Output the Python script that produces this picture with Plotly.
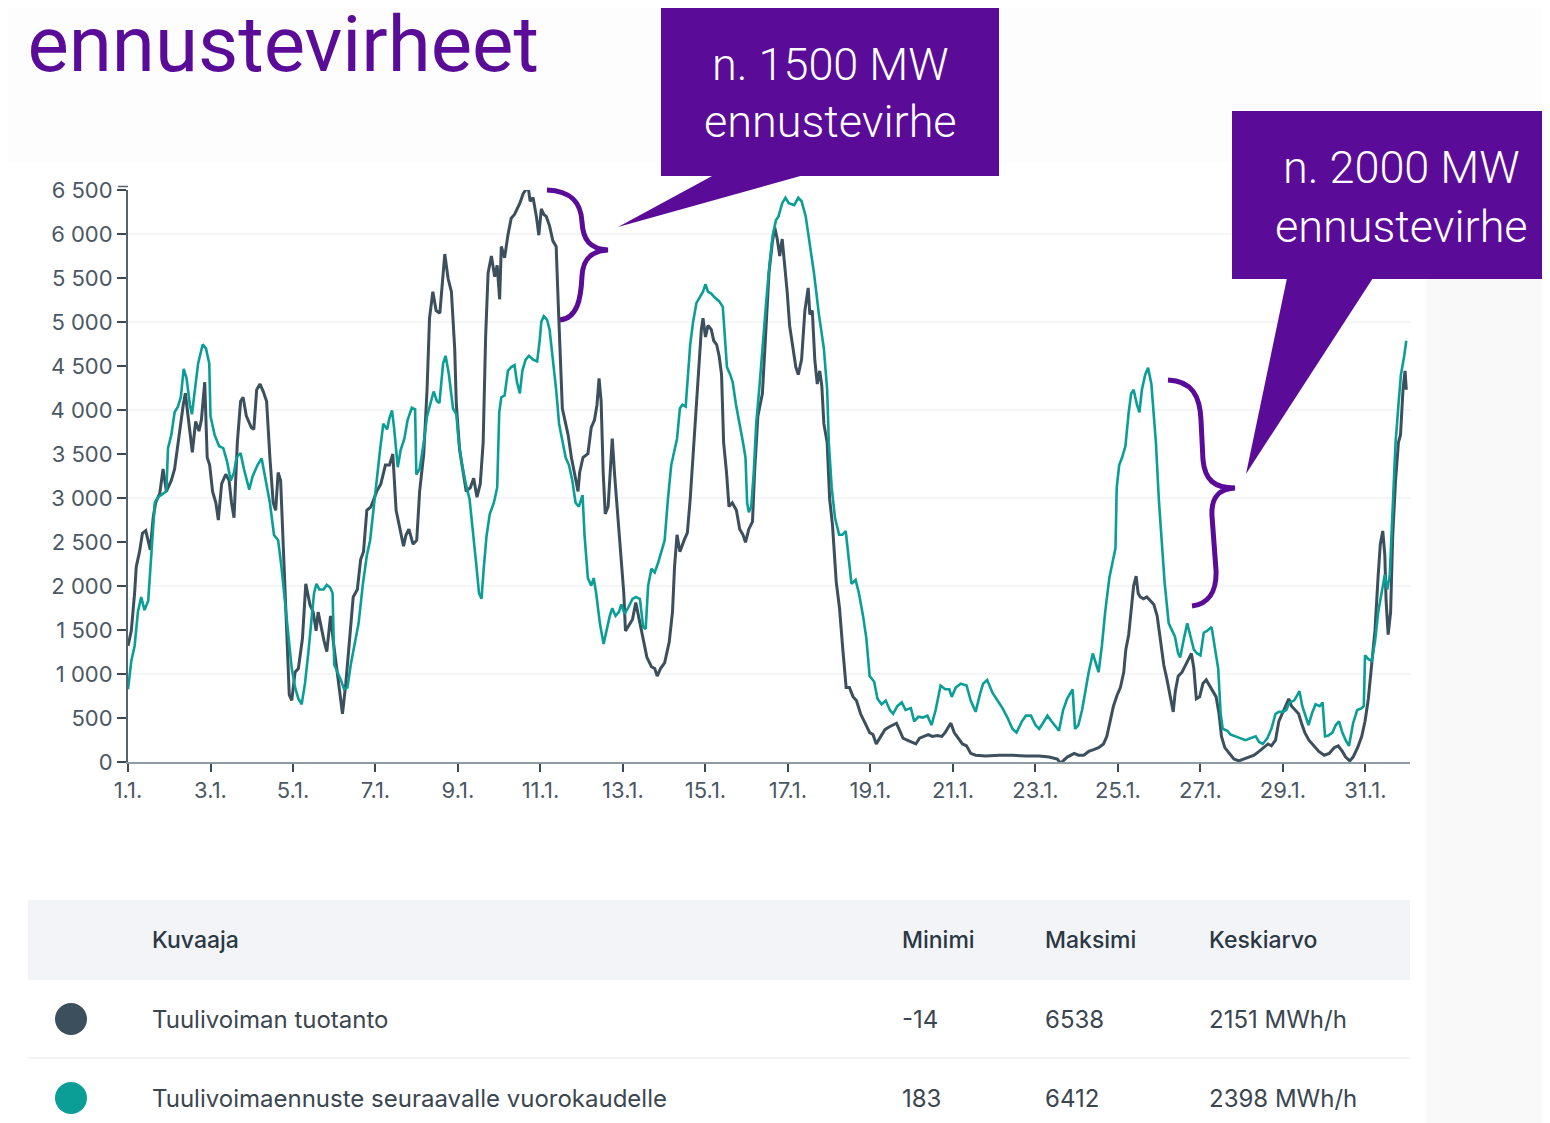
import pandas as pd
import plotly.graph_objects as go

# ---------------- data (day offset from 1 Jan 00:00, MW) ----------------
prod_days = [0, 0.08, 0.16, 0.2, 0.28, 0.35, 0.43, 0.54, 0.61, 0.67, 0.77, 0.85, 0.93, 1.05, 1.13, 1.21, 1.34, 1.39, 1.46,
             1.56, 1.64, 1.72, 1.78, 1.86, 1.92, 1.98, 2.05, 2.13, 2.19, 2.27, 2.37, 2.45, 2.51, 2.57, 2.65, 2.73, 2.79,
             2.87, 2.99, 3.05, 3.12, 3.2, 3.28, 3.36, 3.44, 3.52, 3.58, 3.64, 3.7, 3.77, 3.85, 3.91, 3.97, 4.05, 4.13,
             4.23, 4.31, 4.41, 4.49, 4.56, 4.61, 4.7, 4.75, 4.82, 4.91, 4.98, 5.06, 5.14, 5.2, 5.28, 5.38, 5.46, 5.56,
             5.64, 5.71, 5.79, 5.89, 5.97, 6.03, 6.13, 6.24, 6.34, 6.42, 6.5, 6.6, 6.68, 6.74, 6.81, 6.91, 7.0, 7.07,
             7.17, 7.25, 7.31, 7.39, 7.47, 7.56, 7.61, 7.68, 7.76, 7.84, 7.92, 7.96, 8.04, 8.12, 8.2, 8.3, 8.38, 8.46,
             8.54, 8.61, 8.67, 8.73, 8.81, 8.89, 8.95, 9.01, 9.05, 9.13, 9.21, 9.29, 9.37, 9.5, 9.58, 9.64, 9.7, 9.75,
             9.82, 9.9, 9.96, 10.02, 10.08, 10.14, 10.22, 10.3, 10.38, 10.43, 10.48, 10.53, 10.59, 10.67, 10.75, 10.83,
             10.91, 10.95, 11.03, 11.15, 11.23, 11.31, 11.37, 11.42, 11.47, 11.52, 11.57, 11.64, 11.7, 11.74, 11.8,
             11.88, 11.96, 12.02, 12.06, 12.15, 12.23, 12.31, 12.39, 12.49, 12.58, 12.69, 12.77, 12.83, 12.91, 13.01,
             13.12, 13.2, 13.25, 13.31, 13.38, 13.48, 13.56, 13.63, 13.72, 13.78, 13.84, 13.9, 13.94, 14.0, 14.06,
             14.14, 14.2, 14.27, 14.33, 14.39, 14.44, 14.51, 14.57, 14.65, 14.75, 14.83, 14.91, 14.97, 15.05, 15.14,
             15.19, 15.27, 15.38, 15.46, 15.54, 15.62, 15.68, 15.74, 15.8, 15.86, 15.93, 15.98, 16.04, 16.11, 16.19,
             16.25, 16.33, 16.41, 16.49, 16.53, 16.59, 16.65, 16.71, 16.77, 16.82, 16.87, 16.95, 17.01, 17.08, 17.17,
             17.25, 17.33, 17.41, 17.49, 17.58, 17.66, 17.76, 17.87, 17.98, 18.06, 18.14, 18.25, 18.35, 18.45, 18.55,
             18.63, 18.69, 18.79, 18.89, 18.99, 19.1, 19.19, 19.3, 19.4, 19.5, 19.62, 19.73, 19.81, 19.89, 19.95,
             20.03, 20.14, 20.23, 20.33, 20.43, 20.55, 20.79, 21.12, 21.44, 21.76, 22.09, 22.33, 22.53, 22.61, 22.77,
             22.94, 23.04, 23.17, 23.29, 23.41, 23.53, 23.65, 23.73, 23.81, 23.89, 23.98, 24.06, 24.14, 24.19, 24.26,
             24.32, 24.38, 24.44, 24.49, 24.54, 24.62, 24.7, 24.79, 24.87, 24.95, 25.03, 25.11, 25.19, 25.27, 25.34,
             25.39, 25.46, 25.55, 25.64, 25.72, 25.78, 25.84, 25.9, 25.98, 26.06, 26.14, 26.22, 26.3, 26.38, 26.45,
             26.51, 26.59, 26.69, 26.81, 26.93, 27.05, 27.17, 27.3, 27.42, 27.54, 27.64, 27.72, 27.82, 27.9, 27.98,
             28.06, 28.14, 28.21, 28.29, 28.38, 28.45, 28.53, 28.63, 28.75, 28.87, 29.0, 29.12, 29.24, 29.34, 29.44,
             29.52, 29.62, 29.7, 29.81, 29.91, 29.99, 30.07, 30.15, 30.23, 30.31, 30.36, 30.42, 30.47, 30.5, 30.55,
             30.61, 30.66, 30.73, 30.8, 30.85, 30.91, 30.96, 30.99]
prod_mw = [1320, 1490, 1918, 2218, 2390, 2600, 2630, 2410, 2775, 2946, 3053, 3330, 3075, 3200, 3330, 3630, 4060, 4190, 3890,
           3520, 3870, 3760, 3890, 4316, 3460, 3374, 3075, 2946, 2750, 3160, 3270, 3200, 2946, 2775, 3630, 4100, 4145,
           3930, 3800, 3780, 4230, 4295, 4210, 4100, 3460, 2946, 2860, 3290, 3200, 2347, 1490, 762, 700, 1020, 1062,
           1405, 2025, 1790, 1704, 1490, 1704, 1490, 1383, 1255, 1660, 1360, 1062, 720, 548, 890, 1490, 1875, 1960,
           2300, 2390, 2860, 2900, 2990, 3075, 3160, 3374, 3374, 3500, 2860, 2646, 2453, 2580, 2646, 2475, 2520, 3075,
           3500, 4230, 5044, 5344, 5130, 5100, 5387, 5772, 5494, 5344, 4700, 4060, 3545, 3290, 3075, 3117, 3224, 3010,
           3160, 3630, 4830, 5558, 5750, 5515, 5644, 5258, 5858, 5730, 5986, 6180, 6222, 6350, 6457, 6500, 6538, 6372,
           6414, 6200, 5986, 6286, 6222, 6200, 6093, 5922, 5858, 5215, 4487, 4017, 3888, 3717, 3460, 3245,
           3075, 3290, 3460, 3503, 3800, 3888, 4060, 4360, 4100, 3290, 2818, 2903, 3374, 3674, 3245,
           2775, 2347, 1918, 1490, 1554, 1619, 1811, 1619, 1405, 1190, 1083, 1062, 976, 1062, 1126,
           1362, 1704, 2218, 2582, 2390, 2518, 2603, 2990, 3630, 4060, 4487, 4916, 5044, 4830, 4959,
           4916, 4787, 4744, 4616, 4402, 3630, 3290, 2903, 2946, 2860, 2646, 2582, 2496, 2646, 2732,
           3290, 3930, 4188, 4916, 5558, 5900, 6072, 5943, 5750, 5943, 5601, 5344, 4959, 4745, 4488,
           4402, 4573, 5130, 5387, 5087, 5130, 4573, 4295, 4445, 4273, 3845, 3630, 2990, 2690, 2047,
           1747, 1276, 848, 848, 740, 698, 548, 441, 334, 312, 205, 291, 368, 398, 420,
           441, 377, 270, 248, 227, 205, 270, 291, 312, 291, 300, 291, 334, 398, 441,
           334, 270, 205, 184, 98, 77, 68, 77, 77, 68, 68, 56, 34, -14, 56,
           98, 77, 77, 120, 141, 163, 205, 291, 462, 634, 762, 848, 1019, 1276, 1447,
           1704, 2004, 2111, 1918, 1875, 1854, 1875, 1833, 1790, 1661, 1362, 1105, 933, 719, 570,
           805, 976, 1019, 1105, 1190, 1233, 1062, 719, 740, 891, 933, 869, 805, 740, 548,
           291, 163, 98, 34, 13, 34, 56, 77, 120, 163, 205, 184, 248, 462, 548,
           634, 719, 634, 591, 548, 441, 334, 248, 184, 120, 77, 98, 163, 184, 120,
           56, 13, 56, 163, 291, 462, 719, 1105, 1490, 2132, 2475, 2625, 2347, 1833, 1447,
           1704, 2560, 3203, 3631, 3717, 4230, 4445, 4230]

fc_days = [0, 0.08, 0.16, 0.24, 0.32, 0.4, 0.49, 0.57, 0.65, 0.73, 0.85, 0.93, 0.97, 1.05, 1.13, 1.21, 1.28, 1.35, 1.42,
           1.5, 1.55, 1.62, 1.7, 1.81, 1.89, 1.97, 2.0, 2.1, 2.21, 2.31, 2.4, 2.49, 2.57, 2.63, 2.73, 2.81, 2.94, 3.02,
           3.14, 3.24, 3.32, 3.44, 3.54, 3.64, 3.72, 3.81, 3.89, 3.97, 4.05, 4.13, 4.21, 4.29, 4.37, 4.45, 4.51, 4.57,
           4.64, 4.74, 4.82, 4.9, 4.96, 5.0, 5.08, 5.16, 5.24, 5.32, 5.4, 5.51, 5.59, 5.69, 5.79, 5.87, 5.95, 6.03,
           6.11, 6.19, 6.28, 6.34, 6.4, 6.45, 6.54, 6.61, 6.7, 6.78, 6.88, 6.96, 6.99, 7.07, 7.17, 7.25, 7.35, 7.41,
           7.49, 7.55, 7.64, 7.7, 7.78, 7.88, 7.96, 8.02, 8.1, 8.19, 8.28, 8.36, 8.44, 8.51, 8.57, 8.62, 8.69, 8.77,
           8.87, 8.95, 9.0, 9.05, 9.13, 9.21, 9.29, 9.37, 9.43, 9.5, 9.56, 9.64, 9.72, 9.82, 9.92, 9.98, 10.02, 10.08,
           10.16, 10.22, 10.3, 10.38, 10.45, 10.53, 10.61, 10.69, 10.77, 10.85, 10.93, 11.02, 11.07, 11.15, 11.23,
           11.29, 11.35, 11.44, 11.53, 11.6, 11.68, 11.74, 11.82, 11.9, 11.96, 12.04, 12.12, 12.23, 12.31, 12.41,
           12.49, 12.55, 12.61, 12.69, 12.77, 12.85, 12.93, 13.01, 13.09, 13.17, 13.25, 13.31, 13.38, 13.44, 13.52,
           13.58, 13.63, 13.7, 13.78, 13.86, 13.94, 14.0, 14.06, 14.14, 14.22, 14.33, 14.42, 14.47, 14.52, 14.6,
           14.66, 14.74, 14.83, 14.91, 14.97, 15.01, 15.05, 15.11, 15.17, 15.23, 15.31, 15.39, 15.47, 15.55, 15.63,
           15.71, 15.77, 15.86, 15.94, 16.02, 16.15, 16.25, 16.33, 16.43, 16.51, 16.63, 16.75, 16.87, 16.95, 16.99,
           17.06, 17.14, 17.24, 17.32, 17.4, 17.46, 17.54, 17.64, 17.72, 17.82, 17.9, 17.98, 18.09, 18.17, 18.27,
           18.37, 18.47, 18.55, 18.65, 18.76, 18.85, 18.98, 19.06, 19.16, 19.27, 19.38, 19.48, 19.58, 19.7, 19.81,
           19.91, 19.97, 20.07, 20.19, 20.33, 20.43, 20.55, 20.65, 20.73, 20.83, 20.96, 21.08, 21.2, 21.32, 21.44,
           21.54, 21.67, 21.77, 21.89, 22.0, 22.09, 22.18, 22.29, 22.39, 22.49, 22.57, 22.67, 22.77, 22.9, 22.96,
           23.04, 23.13, 23.21, 23.29, 23.39, 23.47, 23.53, 23.61, 23.69, 23.79, 23.85, 23.94, 23.97, 24.03, 24.1,
           24.18, 24.26, 24.32, 24.38, 24.46, 24.52, 24.58, 24.66, 24.73, 24.81, 24.87, 24.92, 24.99, 25.05, 25.13,
           25.23, 25.31, 25.38, 25.46, 25.51, 25.6, 25.68, 25.76, 25.84, 25.92, 26.0, 26.08, 26.16, 26.27, 26.35,
           26.43, 26.49, 26.54, 26.65, 26.73, 26.85, 26.97, 27.09, 27.21, 27.34, 27.42, 27.51, 27.62, 27.72, 27.82,
           27.9, 28.0, 28.08, 28.16, 28.27, 28.35, 28.4, 28.47, 28.55, 28.62, 28.7, 28.79, 28.89, 28.96, 29.02,
           29.1, 29.2, 29.28, 29.36, 29.44, 29.52, 29.6, 29.7, 29.8, 29.91, 29.96, 29.99, 30.07, 30.15, 30.23,
           30.31, 30.39, 30.47, 30.53, 30.59, 30.65, 30.73, 30.8, 30.86, 30.94, 30.99]
fc_mw = [826, 1148, 1319, 1704, 1875, 1726, 1833, 2390, 2946, 3010, 3053, 3075, 3567, 3717, 3974, 4038, 4145, 4466, 4360,
         4060, 3952, 4252, 4530, 4745, 4700, 4530, 3930, 3717, 3588, 3567, 3417, 3200, 3290, 3460, 3510, 3330, 3096, 3245,
         3374, 3450, 3245, 2946, 2580, 2520, 2218, 1790, 1405, 1062, 848, 720, 655, 890, 1233, 1660, 1918, 2025,
         1960, 1960, 2012, 1982, 1918, 1105, 1020, 933, 826, 848, 1105, 1405, 1576, 2004, 2347, 2520, 2860, 3245,
         3545, 3845, 3780, 3910, 3995, 3800, 3350, 3545, 3674, 3888, 4025, 4008, 3267, 3330, 3630, 3930, 4100, 4210,
         4100, 4080, 4530, 4616, 4402, 4017, 3952, 3630, 3374, 3160, 2990, 2646, 2261, 1918, 1854, 2175, 2560, 2818,
         2946, 3117, 3974, 4145, 4166, 4445, 4487, 4509, 4316, 4188, 4445, 4573, 4616, 4573, 4552, 4787, 5001, 5066,
         5023, 4916, 4573, 4230, 3845, 3630, 3460, 3374, 3203, 2946, 2903, 3032, 2560, 2090, 2004,
         2090, 1918, 1576, 1340, 1490, 1660, 1747, 1660, 1704, 1790, 1683, 1747, 1854, 1875, 1854,
         1533, 1512, 2004, 2197, 2154, 2261, 2390, 2518, 2990, 3374, 3545, 3674, 4017, 4060, 4038,
         4402, 4745, 5001, 5215, 5280, 5344, 5430, 5344, 5323, 5280, 5237, 5172, 4830, 4487, 4402,
         4316, 4060, 3845, 3630, 3460, 2946, 2839, 2903, 3290, 3845, 4273, 4787, 5215, 5644, 5986,
         6158, 6200, 6350, 6412, 6350, 6329, 6412, 6372, 6200, 5943, 5558, 5087, 4700, 4230, 3630,
         3117, 2775, 2582, 2582, 2625, 2390, 2025, 2068, 1918, 1660, 1405, 976, 912, 720, 655,
         698, 591, 548, 634, 677, 591, 612, 462, 514, 505, 527, 420, 591, 869, 826,
         826, 740, 848, 890, 869, 698, 570, 762, 890, 933, 784, 698, 612, 505, 377,
         334, 462, 527, 527, 420, 377, 441, 527, 462, 398, 355, 591, 720, 826, 377,
         420, 591, 805, 1020, 1233, 1105, 1020, 1319, 1704, 2090, 2218, 2432, 3117, 3374, 3460,
         3588, 3974, 4188, 4230, 4060, 3974, 4230, 4402, 4479, 4295, 3974, 3631, 2989, 2560, 2047,
         1576, 1490, 1426, 1233, 1190, 1405, 1576, 1426, 1276, 1233, 1212, 1469, 1490, 1533, 1319,
         1062, 548, 377, 355, 312, 291, 270, 248, 270, 291, 227, 205, 270, 377, 548,
         570, 570, 591, 677, 698, 762, 805, 634, 505, 420, 548, 655, 634, 677, 291,
         300, 334, 420, 462, 334, 248, 183, 441, 591, 612, 634, 1212, 1169, 1148, 1362,
         1704, 1918, 2132, 1960, 2132, 2775, 3631, 4060, 4402, 4616, 4787]

series_names = ["Tuulivoiman tuotanto", "Tuulivoimaennuste seuraavalle vuorokaudelle"]
series_min = ["-14", "183"]
series_max = ["6538", "6412"]
series_mean = ["2151 MWh/h", "2398 MWh/h"]
table_headers = ["Kuvaaja", "Minimi", "Maksimi", "Keskiarvo"]
grid_levels = [1000, 2000, 3000, 4000, 5000, 6000]
callout_1 = ["n. 1500 MW", "ennustevirhe"]
callout_2 = ["n. 2000 MW", "ennustevirhe"]
title_text = "n ennustevirheet"

# ---------------- styling ----------------
DARK = "#3c4f5d"
TEAL = "#0a9e96"
PURPLE = "#5a0c99"
TXT = "#3a4650"
PAGE_OFF = 8                      # browser body margin
W, H = 1550, 1123                 # reference page size
L, R, T, B = 128, 1410, 190, 762  # plot area in reference pixels


def PX(x):
    return (x - L) / (R - L)


def PY(y):
    return (B - y) / (B - T)


base = pd.Timestamp("2024-01-01")
prod_x = base + pd.to_timedelta(prod_days, unit="D")
fc_x = base + pd.to_timedelta(fc_days, unit="D")

fig = go.Figure()
fig.add_trace(go.Scatter(x=prod_x, y=prod_mw, mode="lines", name=series_names[0],
                         line=dict(color=DARK, width=3.0), showlegend=False))
fig.add_trace(go.Scatter(x=fc_x, y=fc_mw, mode="lines", name=series_names[1],
                         line=dict(color=TEAL, width=2.6), showlegend=False))

shapes = []
# page panels
shapes.append(dict(type="rect", xref="paper", yref="paper", x0=PX(-20), x1=PX(W + 20), y0=PY(-20), y1=PY(163),
                   fillcolor="#fdfdfd", line=dict(width=0), layer="below"))
shapes.append(dict(type="rect", xref="paper", yref="paper", x0=PX(5), x1=PX(1426), y0=PY(163), y1=PY(H + 20),
                   fillcolor="white", line=dict(width=0), layer="below"))
# grid lines
for g in grid_levels:
    shapes.append(dict(type="line", xref="paper", yref="y", x0=0, x1=1, y0=g, y1=g,
                       line=dict(color="#f1f2f3", width=1.5), layer="below"))
# extra cap tick at top of y axis
shapes.append(dict(type="line", xref="paper", yref="paper", x0=PX(118), x1=PX(128), y0=PY(186.5), y1=PY(186.5),
                   line=dict(color="#55636e", width=1.5)))


def path_from(points_cmds):
    out = []
    for cmd, pts in points_cmds:
        coords = " ".join(f"{PX(x):.5f},{PY(y):.5f}" for x, y in pts)
        out.append(f"{cmd} {coords}")
    return " ".join(out)


# callout boxes
shapes.append(dict(type="rect", xref="paper", yref="paper", x0=PX(661), x1=PX(999), y0=PY(7), y1=PY(176),
                   fillcolor=PURPLE, line=dict(width=0)))
shapes.append(dict(type="path", xref="paper", yref="paper",
                   path=path_from([("M", [(714, 175)]), ("L", [(804, 175)]), ("L", [(618, 227)])]) + " Z",
                   fillcolor=PURPLE, line=dict(width=0)))
shapes.append(dict(type="rect", xref="paper", yref="paper", x0=PX(1232), x1=PX(1570), y0=PY(111), y1=PY(279),
                   fillcolor=PURPLE, line=dict(width=0)))
shapes.append(dict(type="path", xref="paper", yref="paper",
                   path=path_from([("M", [(1287, 278)]), ("L", [(1373, 278)]), ("L", [(1246, 474)])]) + " Z",
                   fillcolor=PURPLE, line=dict(width=0)))
# braces
brace1 = path_from([("M", [(547, 190)]),
                    ("C", [(572, 191), (581, 203), (582, 222)]),
                    ("C", [(583, 240), (590, 249), (608, 250)]),
                    ("C", [(591, 251), (583, 259), (582, 276)]),
                    ("C", [(581, 300), (577, 318), (560, 320)])])
shapes.append(dict(type="path", xref="paper", yref="paper", path=brace1,
                   line=dict(color=PURPLE, width=5)))
brace2 = path_from([("M", [(1168, 380)]),
                    ("C", [(1192, 381), (1200, 396), (1201, 420)]),
                    ("L", [(1203, 460)]),
                    ("C", [(1205, 480), (1214, 488), (1235, 488)]),
                    ("C", [(1218, 489), (1211, 498), (1212, 516)]),
                    ("L", [(1216, 570)]),
                    ("C", [(1217, 592), (1208, 604), (1192, 606)])])
shapes.append(dict(type="path", xref="paper", yref="paper", path=brace2,
                   line=dict(color=PURPLE, width=5)))

# table
shapes.append(dict(type="rect", xref="paper", yref="paper", x0=PX(28), x1=PX(1410), y0=PY(900), y1=PY(980),
                   fillcolor="#f2f4f7", line=dict(width=0)))
shapes.append(dict(type="line", xref="paper", yref="paper", x0=PX(28), x1=PX(1410), y0=PY(1058), y1=PY(1058),
                   line=dict(color="#eceff2", width=1.5)))
row_y = [1019, 1098]
row_colors = [DARK, TEAL]
for ry, c in zip(row_y, row_colors):
    shapes.append(dict(type="circle", xref="paper", yref="paper", xsizemode="pixel", ysizemode="pixel",
                       xanchor=PX(71), yanchor=PY(ry), x0=-16, x1=16, y0=-16, y1=16,
                       fillcolor=c, line=dict(width=0)))

ann = []
ann.append(dict(text=title_text, x=PX(541), y=PY(45), xref="paper", yref="paper", xanchor="right",
                yanchor="middle", showarrow=False,
                font=dict(family="Roboto", size=78, color=PURPLE)))
for txt, yy in zip(callout_1, [64, 121]):
    ann.append(dict(text=txt, x=PX(830), y=PY(yy), xref="paper", yref="paper", xanchor="center",
                    yanchor="middle", showarrow=False,
                    font=dict(family="Roboto", size=45, color="white", weight=300)))
for txt, yy in zip(callout_2, [168, 226]):
    ann.append(dict(text=txt, x=PX(1401), y=PY(yy), xref="paper", yref="paper", xanchor="center",
                    yanchor="middle", showarrow=False,
                    font=dict(family="Roboto", size=45, color="white", weight=300)))

col_x = [150, 900, 1043, 1207]
for txt, cx in zip(table_headers, col_x):
    ann.append(dict(text=txt, x=PX(cx), y=PY(940), xref="paper", yref="paper", xanchor="left",
                    yanchor="middle", showarrow=False,
                    font=dict(family="Inter", size=23, color="#2b3843", weight=500)))
for i, ry in enumerate(row_y):
    vals = [series_names[i], series_min[i], series_max[i], series_mean[i]]
    for txt, cx in zip(vals, col_x):
        ann.append(dict(text=txt, x=PX(cx), y=PY(ry), xref="paper", yref="paper", xanchor="left",
                        yanchor="middle", showarrow=False,
                        font=dict(family="Inter", size=24, color=TXT)))

FW, FH = W - PAGE_OFF, H - PAGE_OFF
fig.update_layout(
    width=FW, height=FH,
    margin=dict(l=L - PAGE_OFF, r=FW - (R - PAGE_OFF), t=T - PAGE_OFF, b=FH - (B - PAGE_OFF), pad=0),
    paper_bgcolor="#f9f9f9",
    plot_bgcolor="white",
    separators=", ",
    showlegend=False,
    shapes=shapes,
    annotations=ann,
    font=dict(family="Inter", color="#4a5864"),
)
fig.update_xaxes(
    type="date",
    range=[base, base + pd.Timedelta(days=31.08)],
    tick0=base, dtick=2 * 86400000, tickformat="%-d.%-m.",
    ticks="outside", ticklen=8, tickwidth=1.5, tickcolor="#3b4a55",
    showline=True, linecolor="#8f9aa3", linewidth=2,
    showgrid=False, zeroline=False,
    tickfont=dict(family="Inter", size=22, color="#4a5864"),
)
fig.update_yaxes(
    range=[0, 6500], tick0=0, dtick=500, tickformat=",",
    ticks="outside", ticklen=9, tickwidth=1.5, tickcolor="#3b4a55",
    showline=True, linecolor="#55636e", linewidth=2,
    showgrid=False, zeroline=False,
    tickfont=dict(family="Inter", size=22, color="#4a5864"),
)

fig.write_html("out.html")
